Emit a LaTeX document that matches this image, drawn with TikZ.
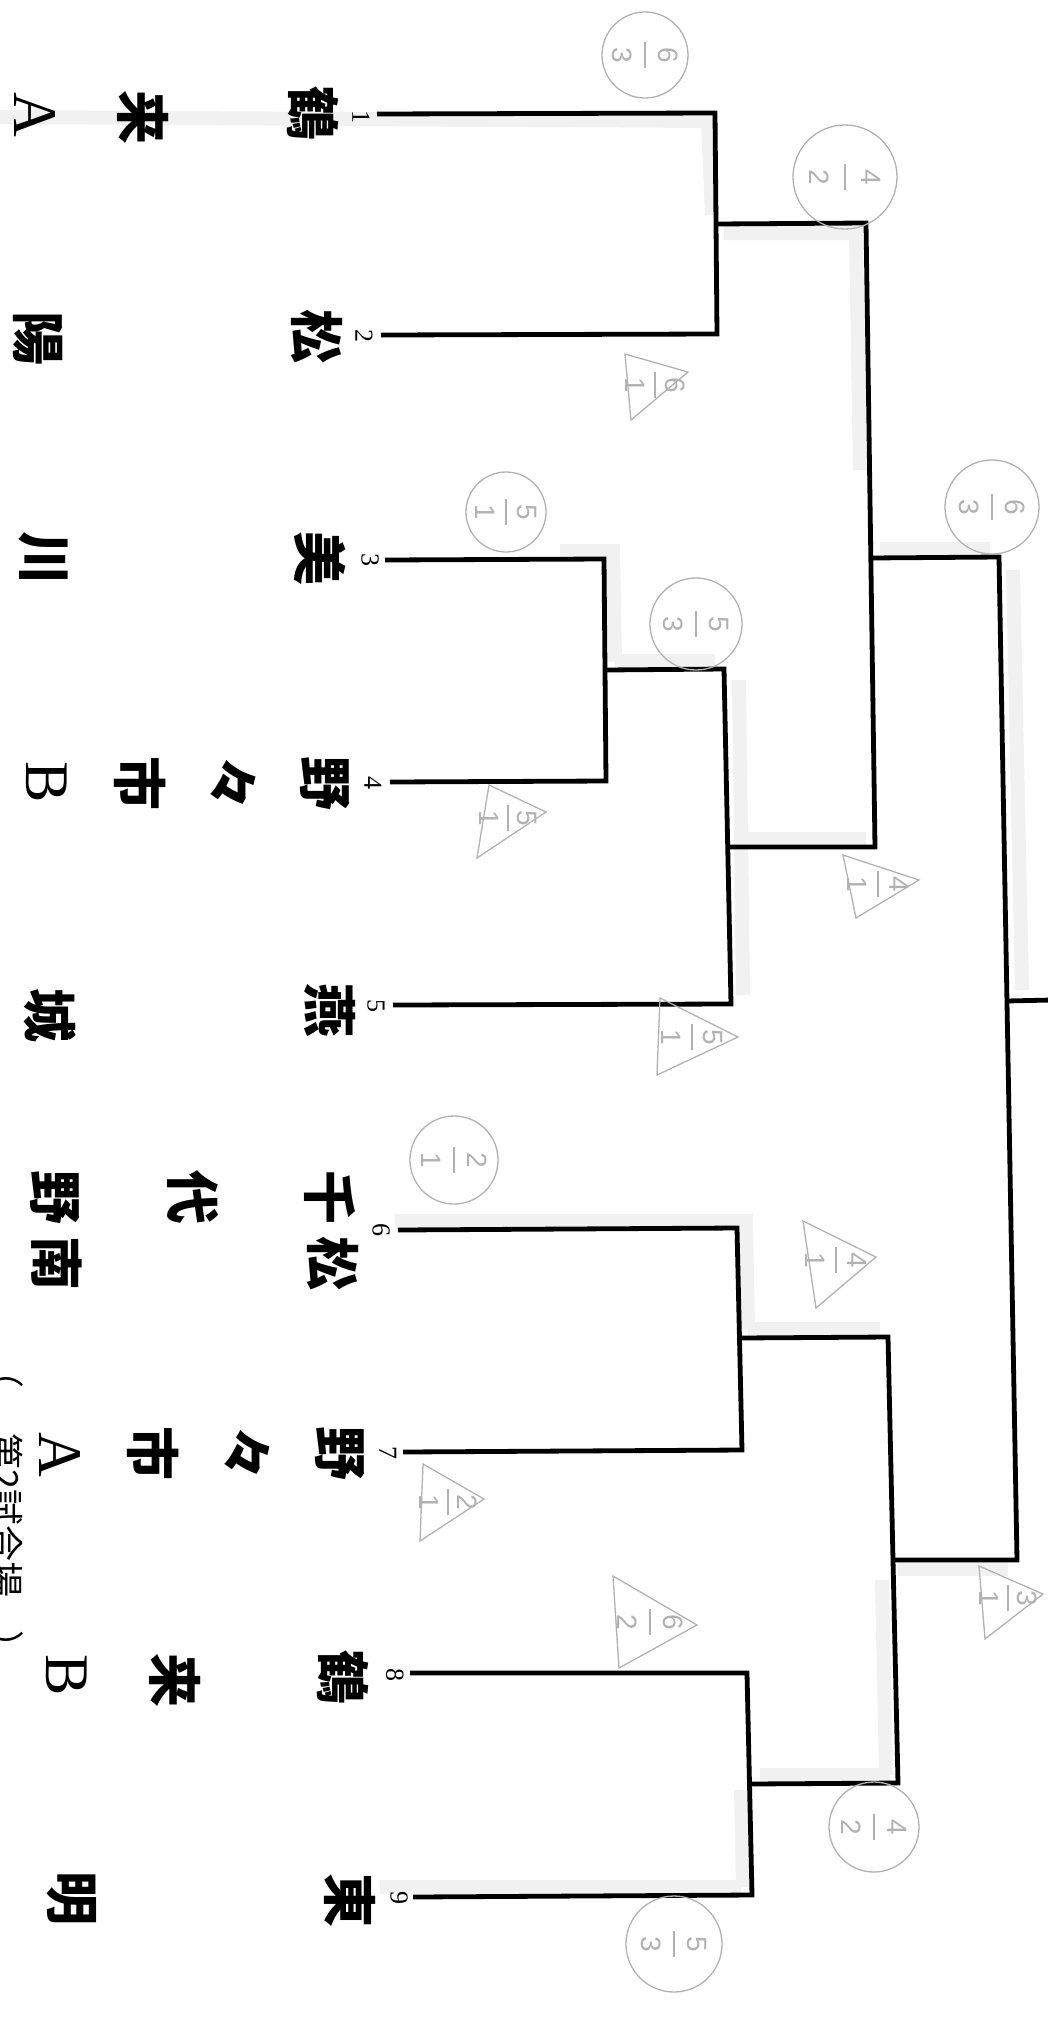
\documentclass[tikz,border=0pt]{standalone}
\usepackage{fontspec}
\setmainfont{Liberation Serif}
\newfontfamily\jp{Noto Sans CJK JP}
\newfontfamily\hand{Liberation Sans}
\usetikzlibrary{calc}
\newcommand\scoremark[5]{%
  \node[digit] (#1t) at ($(#2)+(#5,0)$) {#3};
  \node[digit] (#1b) at ($(#2)+(-#5,0)$) {#4};
  \draw[pencil] ($(#2)+(0,-13)$) -- ($(#2)+(0,13)$);}
\begin{document}
\begin{tikzpicture}[x=1pt,y=-1pt,
  team/.style={font=\jp\bfseries\fontsize{54}{54}\selectfont, rotate=-90, inner sep=0pt},
  lat/.style={font=\fontsize{62}{62}\selectfont, rotate=-90, inner sep=0pt},
  num/.style={font=\fontsize{26}{26}\selectfont, rotate=-90, inner sep=0pt},
  venue/.style={font=\jp\fontsize{36}{36}\selectfont, rotate=-90, inner sep=0pt},
  br/.style={line width=4.8pt, line join=miter, line cap=butt},
  halo/.style={line width=14pt, draw=gray!11, line cap=butt, line join=miter},
  pencil/.style={draw=gray!60, line width=1.3pt},
  digit/.style={font=\hand\fontsize{28}{28}\selectfont, text=gray!60, rotate=-90, inner sep=0pt}]
\fill[white] (0,0) rectangle (1048,2022);
\useasboundingbox (0,0) rectangle (1048,2022);

% ---- bracket coordinates
\coordinate (s1) at (377,114); \coordinate (e1) at (715,113);
\coordinate (s2) at (381,335); \coordinate (e2) at (717,334);
\coordinate (j12a) at (716,224); \coordinate (j12b) at (866,223);
\coordinate (s3) at (385,560); \coordinate (e3) at (604,559);
\coordinate (s4) at (390,782); \coordinate (e4) at (606,781);
\coordinate (j34a) at (605,670); \coordinate (j34b) at (724,669);
\coordinate (s5) at (393,1005); \coordinate (e5) at (731,1004);
\coordinate (j345a) at (728,847); \coordinate (j345b) at (875,847);
\coordinate (jTa) at (870,558); \coordinate (jTb) at (999,557);
\coordinate (jBb) at (1017,1560); \coordinate (jBa) at (893,1560);
\coordinate (jFa) at (1006,1001); \coordinate (jFb) at (1052,1000);
\coordinate (s6) at (398,1230); \coordinate (e6) at (737,1228);
\coordinate (s7) at (403,1452); \coordinate (e7) at (742,1450);
\coordinate (j67a) at (739,1338); \coordinate (j67b) at (888,1337);
\coordinate (s8) at (410,1673); \coordinate (e8) at (747,1673);
\coordinate (s9) at (413,1897); \coordinate (e9) at (752,1895);
\coordinate (j89a) at (750,1784); \coordinate (j89b) at (898,1783);

% ---- scan shading along some lines
\draw[halo] (0,117) -- (708,121) -- (712,215);
\draw[halo] (724,233) -- (856,233) -- (860,470);
\draw[halo] (560,551) -- (613,551) -- (615,662);
\draw[halo] (615,661) -- (715,661);
\draw[halo] (739,680) -- (743,995);
\draw[halo] (740,839) -- (866,839);
\draw[halo] (880,549) -- (990,549);
\draw[halo] (1013,570) -- (1022,990);
\draw[halo] (395,1221) -- (746,1221) -- (748,1329);
\draw[halo] (748,1329) -- (880,1329);
\draw[halo] (898,1569) -- (1008,1569);
\draw[halo] (882,1580) -- (886,1775);
\draw[halo] (760,1775) -- (890,1775);
\draw[halo] (741,1790) -- (743,1887);
\draw[halo] (380,1887) -- (741,1887);

% ---- bracket
\draw[br] (s1) -- (e1) -- (e2) -- (s2);
\draw[br] (j12a) -- (j12b) -- (j345b) -- (j345a);
\draw[br] (s3) -- (e3) -- (e4) -- (s4);
\draw[br] (j34a) -- (j34b) -- (e5) -- (s5);
\draw[br] (jTa) -- (jTb) -- (jBb) -- (jBa);
\draw[br] (jFa) -- (jFb);
\draw[br] (s6) -- (e6) -- (e7) -- (s7);
\draw[br] (s8) -- (e8) -- (e9) -- (s9);
\draw[br] (j67a) -- (j67b) -- (j89b) -- (j89a);

% ---- numbers
\node[num] (n1) at (361,117) {1};
\node[num] (n2) at (364,336) {2};
\node[num] (n3) at (370,560) {3};
\node[num] (n4) at (373,783) {4};
\node[num] (n5) at (376,1006) {5};
\node[num] (n6) at (381,1230) {6};
\node[num] (n7) at (388,1453) {7};
\node[num] (n8) at (395,1675) {8};
\node[num] (n9) at (399,1898) {9};

% ---- team names
\node[team] (t1a) at (313,113) {鶴};
\node[team] (t1b) at (143,117) {来};
\node[lat]  (t1c) at (35,115) {A};
\node[team] (t2a) at (317,336) {松};
\node[team] (t2b) at (38,338) {陽};
\node[team] (t3a) at (320,558) {美};
\node[team] (t3b) at (43,558) {川};
\node[team] (t4a) at (325,783) {野};
\node[team] (t4b) at (233,783) {々};
\node[team] (t4c) at (140,783) {市};
\node[lat]  (t4d) at (47,782) {B};
\node[team] (t5a) at (330,1010) {燕};
\node[team] (t5b) at (50,1015) {城};
\node[team] (t6a) at (330,1197) {千};
\node[team] (t6b) at (333,1263) {松};
\node[team] (t6c) at (193,1197) {代};
\node[team] (t6d) at (55,1197) {野};
\node[team] (t6e) at (57,1263) {南};
\node[team] (t7a) at (340,1453) {野};
\node[team] (t7b) at (247,1453) {々};
\node[team] (t7c) at (153,1453) {市};
\node[lat]  (t7d) at (60,1455) {A};
\node[team] (t8a) at (343,1677) {鶴};
\node[team] (t8b) at (175,1680) {来};
\node[lat]  (t8c) at (67,1675) {B};
\node[team] (t9a) at (350,1900) {東};
\node[team] (t9b) at (72,1898) {明};

% ---- venue note (cut by the left edge, as in the scan)
\node[venue] (v1) at (6,1370) {（};
\node[venue] (v2) at (6,1515) {第2試合場};
\node[venue] (v3) at (6,1648) {）};

% ---- pencil scores: circles (winners)
\coordinate (cA) at (645,55);   \draw[pencil] (cA) circle[radius=43]; \scoremark{A}{cA}{6}{3}{23}
\coordinate (cC) at (845,177);  \draw[pencil] (cC) circle[radius=52]; \scoremark{C}{cC}{4}{2}{26}
\coordinate (cE) at (506,512);  \draw[pencil] (cE) circle[radius=40]; \scoremark{E}{cE}{5}{1}{21}
\coordinate (cD) at (992,507);  \draw[pencil] (cD) circle[radius=47]; \scoremark{D}{cD}{6}{3}{23}
\coordinate (cF) at (696,624);  \draw[pencil] (cF) circle[radius=46]; \scoremark{F}{cF}{5}{3}{23}
\coordinate (cK) at (454,1160); \draw[pencil] (cK) circle[radius=44]; \scoremark{K}{cK}{2}{1}{23}
\coordinate (cN) at (874,1827); \draw[pencil] (cN) circle[radius=45]; \scoremark{N}{cN}{4}{2}{23}
\coordinate (cO) at (674,1944); \draw[pencil] (cO) circle[radius=48]; \scoremark{O}{cO}{5}{3}{23}

% ---- pencil scores: triangles (losers)
\draw[pencil] (625,354) -- (688,372) -- (631,420) -- cycle;
\coordinate (cB) at (655,385); \scoremark{B}{cB}{6}{1}{20}
\draw[pencil] (489,785) -- (546,812) -- (477,858) -- cycle;
\coordinate (cG) at (508,818); \scoremark{G}{cG}{5}{1}{19}
\draw[pencil] (843,855) -- (919,880) -- (856,918) -- cycle;
\coordinate (cH) at (878,884); \scoremark{H}{cH}{4}{1}{21}
\draw[pencil] (660,998) -- (738,1037) -- (657,1075) -- cycle;
\coordinate (cI) at (692,1037); \scoremark{I}{cI}{5}{1}{21}
\draw[pencil] (803,1221) -- (876,1257) -- (816,1308) -- cycle;
\coordinate (cJ) at (836,1260); \scoremark{J}{cJ}{4}{1}{21}
\draw[pencil] (423,1464) -- (484,1499) -- (420,1541) -- cycle;
\coordinate (cL) at (448,1502); \scoremark{L}{cL}{2}{1}{19}
\draw[pencil] (613,1576) -- (697,1625) -- (619,1668) -- cycle;
\coordinate (cM) at (650,1622); \scoremark{M}{cM}{6}{2}{23}
\draw[pencil] (979,1566) -- (1043,1594) -- (985,1639) -- cycle;
\coordinate (cP) at (1008,1598); \scoremark{P}{cP}{3}{1}{19}
\end{tikzpicture}
\end{document}
